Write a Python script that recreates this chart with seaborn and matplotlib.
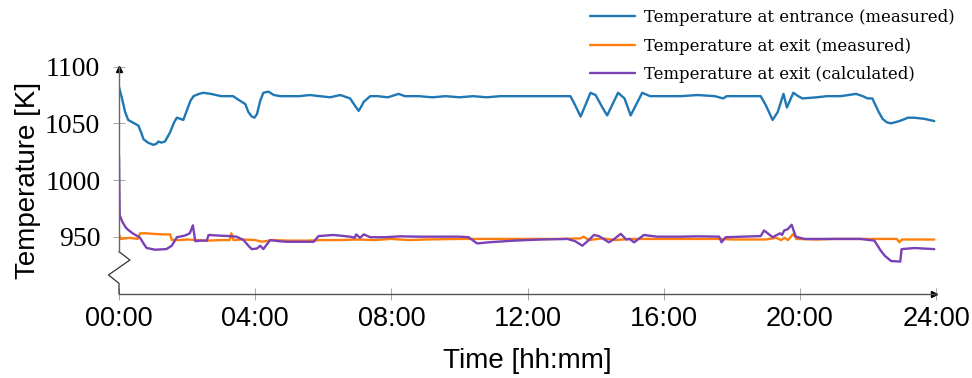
import seaborn as sns
import matplotlib
matplotlib.use("Agg")
import matplotlib.pyplot as plt
import pandas as pd

# time in hours, temperatures in K
t_entrance = [0.00, 0.08, 0.18, 0.27, 0.45, 0.57, 0.65, 0.72, 0.85, 1.01, 1.10, 1.16, 1.25, 1.35,
              1.50, 1.62, 1.70, 1.80, 1.89, 2.00, 2.10, 2.19, 2.35, 2.48, 2.70, 3.00, 3.26, 3.35,
              3.50, 3.71, 3.80, 3.90, 3.98, 4.05, 4.15, 4.24, 4.39, 4.55, 4.74, 5.00, 5.30, 5.60,
              5.90, 6.20, 6.50, 6.79, 6.90, 7.04, 7.12, 7.19, 7.38, 7.60, 7.90, 8.21, 8.40, 8.80,
              9.20, 9.60, 10.0, 10.4, 10.8, 11.2, 11.6, 12.0, 12.5, 13.0, 13.26, 13.40, 13.56, 13.70,
              13.85, 14.00, 14.20, 14.34, 14.50, 14.66, 14.85, 15.03, 15.20, 15.37, 15.60, 16.0, 16.5,
              17.0, 17.5, 17.75, 17.85, 18.2, 18.6, 18.85, 19.00, 19.20, 19.35, 19.52, 19.62, 19.81,
              19.95, 20.08, 20.5, 20.8, 21.2, 21.65, 21.85, 21.99, 22.13, 22.30, 22.43, 22.55, 22.68,
              22.92, 23.10, 23.17, 23.35, 23.66, 23.80, 23.95]
T_entrance = [1082, 1073, 1060, 1053, 1050, 1048, 1042, 1036, 1033, 1031, 1032, 1034, 1033, 1034,
              1042, 1051, 1055, 1054, 1053, 1062, 1070, 1074, 1076, 1077, 1076, 1074, 1074, 1074,
              1071, 1067, 1060, 1056, 1055, 1058, 1070, 1077, 1078, 1075, 1074, 1074, 1074, 1075,
              1074, 1073, 1075, 1072, 1067, 1061, 1065, 1069, 1074, 1074, 1073, 1076, 1074, 1074,
              1073, 1074, 1073, 1074, 1073, 1074, 1074, 1074, 1074, 1074, 1074, 1066, 1056, 1066,
              1077, 1075, 1064, 1057, 1067, 1077, 1072, 1057, 1067, 1077, 1074, 1074, 1074,
              1075, 1074, 1072, 1074, 1074, 1074, 1074, 1066, 1053, 1060, 1076, 1064, 1077,
              1074, 1072, 1073, 1074, 1074, 1076, 1074, 1072, 1072, 1061, 1054, 1051, 1050,
              1052, 1054, 1055, 1055, 1054, 1053, 1052]

t_exit_meas = [0.00, 0.05, 0.30, 0.55, 0.62, 0.80, 1.00, 1.30, 1.50, 1.55, 1.80, 2.00, 2.30, 2.60,
               3.00, 3.25, 3.30, 3.36, 3.60, 4.00, 4.20, 4.50, 5.00, 5.50, 6.00, 6.50, 7.00, 7.50,
               8.00, 8.50, 9.00, 10.0, 11.0, 12.0, 13.0, 13.55, 13.65, 13.80, 14.20, 14.60, 15.00,
               15.50, 16.0, 17.0, 17.7, 18.0, 18.5, 19.0, 19.30, 19.45, 19.55, 19.65, 19.81, 19.90,
               20.5, 21.0, 21.5, 22.0, 22.5, 22.85, 22.92, 23.00, 23.5, 23.95]
T_exit_meas = [952, 948, 949, 948, 953, 953, 952.5, 952, 952, 947, 947, 947.5, 947, 946.5,
               947, 947, 953, 947, 947.5, 947, 945.5, 947, 946.5, 946.5, 947, 947, 947.5, 947,
               948, 947, 947.5, 948, 948, 948, 948, 948.5, 950, 947, 948.5, 947, 948,
               948, 948, 948, 948, 947.5, 947.5, 947.5, 949, 947, 949, 947, 952.5, 948,
               947.5, 948, 948, 948, 948, 948, 945, 947.5, 947.5, 947.5]

t_exit_calc = [0.00, 0.02, 0.10, 0.20, 0.27, 0.40, 0.62, 0.72, 0.81, 1.06, 1.39, 1.55, 1.70, 1.94,
               2.08, 2.17, 2.24, 2.40, 2.58, 2.63, 2.90, 3.26, 3.45, 3.66, 3.80, 3.90, 4.05, 4.15,
               4.24, 4.44, 4.70, 4.93, 5.30, 5.72, 5.86, 6.30, 6.79, 6.92, 6.97, 7.08, 7.19, 7.38,
               7.80, 8.26, 8.80, 9.50, 10.0, 10.27, 10.52, 10.85, 11.6, 12.4, 13.17, 13.40, 13.61,
               13.80, 13.95, 14.10, 14.39, 14.55, 14.74, 14.90, 15.00, 15.13, 15.42, 15.80, 16.5,
               17.0, 17.63, 17.70, 17.82, 18.3, 18.85, 18.95, 19.20, 19.42, 19.48, 19.54, 19.64,
               19.76, 19.88, 20.13, 21.0, 21.79, 22.19, 22.38, 22.50, 22.68, 22.95, 22.99, 23.37, 23.95]
T_exit_calc = [1021, 969, 963, 958, 956, 953, 949, 944, 940, 938.5, 939, 942, 949.5, 951,
               953, 960, 946, 946.5, 946.5, 951.5, 951, 950.5, 950, 947, 942, 939, 939.5, 942,
               939, 947, 946, 945.5, 945.5, 945.5, 950.5, 951.5, 950, 949, 952, 949, 952, 949.5,
               949.5, 950.3, 950, 950, 950, 949.5, 944, 945, 946.5, 947.5, 948, 946, 942,
               947, 951.5, 950.5, 945, 948, 952.5, 947.5, 948, 945, 951.5, 950, 950,
               950.3, 950, 945, 949.5, 950, 950.5, 955.5, 949.5, 953, 951.5, 955.5, 956.5,
               960.5, 950, 948, 948, 948, 946.5, 937.5, 933, 928.5, 928, 939, 940, 939]

x_ticks = [0, 4, 8, 12, 16, 20, 24]
x_ticklabels = ["00:00", "04:00", "08:00", "12:00", "16:00", "20:00", "24:00"]
y_ticks = [950, 1000, 1050, 1100]

df1 = pd.DataFrame({"Time": t_entrance, "Temp": T_entrance})
df2 = pd.DataFrame({"Time": t_exit_meas, "Temp": T_exit_meas})
df3 = pd.DataFrame({"Time": t_exit_calc, "Temp": T_exit_calc})

sns.set_theme(style="white")
plt.rcParams["font.family"] = ["Liberation Sans", "DejaVu Sans"]
plt.rcParams["text.color"] = "black"
plt.rcParams["axes.labelcolor"] = "black"

fig = plt.figure(figsize=(9.72, 3.78), dpi=100)
ax = fig.add_axes([119 / 972, 84 / 378, 817 / 972, 227.3 / 378])

sns.lineplot(data=df1, x="Time", y="Temp", ax=ax, color="#1f77b4", linewidth=1.7,
             label="Temperature at entrance (measured)")
sns.lineplot(data=df2, x="Time", y="Temp", ax=ax, color="#ff7f0e", linewidth=1.7,
             label="Temperature at exit (measured)")
sns.lineplot(data=df3, x="Time", y="Temp", ax=ax, color="#7a40b5", linewidth=1.7,
             label="Temperature at exit (calculated)")

ax.set_xlim(0, 24)
ax.set_ylim(899.4, 1100)
ax.set_xticks(x_ticks)
ax.set_xticklabels(x_ticklabels, fontsize=19.5, family=["Liberation Sans", "DejaVu Sans"])
ax.set_yticks(y_ticks)
ax.set_yticklabels([str(v) for v in y_ticks], fontsize=20, family=["Liberation Serif", "DejaVu Serif"])
ax.tick_params(axis="both", direction="inout", length=8, width=0.6, color="#999999",
               labelcolor="black", bottom=True, left=True)
ax.tick_params(axis="x", pad=5)
ax.tick_params(axis="y", pad=9.5)

ax.set_xlabel("Time [hh:mm]", fontsize=20, labelpad=11, color="black")
ax.set_ylabel("Temperature [K]", fontsize=20, labelpad=3, color="black")

for s in ["top", "right"]:
    ax.spines[s].set_visible(False)
ax.spines["bottom"].set_color("#555555")
ax.spines["bottom"].set_linewidth(1.0)
ax.spines["left"].set_color("#666666")
ax.spines["left"].set_linewidth(1.0)
ax.spines["left"].set_bounds(936.8, 1100)

# axis break zigzag
ax.plot([0, 0.32, -0.31, 0, 0], [936.8, 929.4, 916.2, 908.8, 899.4], color="#333333",
        linewidth=0.9, clip_on=False)

# arrow heads
ax.plot([0.997], [0], marker=">", markersize=5, color="black", transform=ax.transAxes,
        clip_on=False)
ax.plot([0], [0.988], marker="^", markersize=5, color="black", transform=ax.transAxes,
        clip_on=False)

leg = ax.legend(loc="upper left", bbox_to_anchor=(590 / 972, 1 - 9 / 378),
                bbox_transform=fig.transFigure, frameon=False, borderpad=0,
                borderaxespad=0, handlelength=2.75, handletextpad=0.5, labelspacing=0.7,
                prop={"family": ["DejaVu Serif"], "size": 11.9})
for txt in leg.get_texts():
    txt.set_color("black")

fig.savefig("out.png", dpi=100)
